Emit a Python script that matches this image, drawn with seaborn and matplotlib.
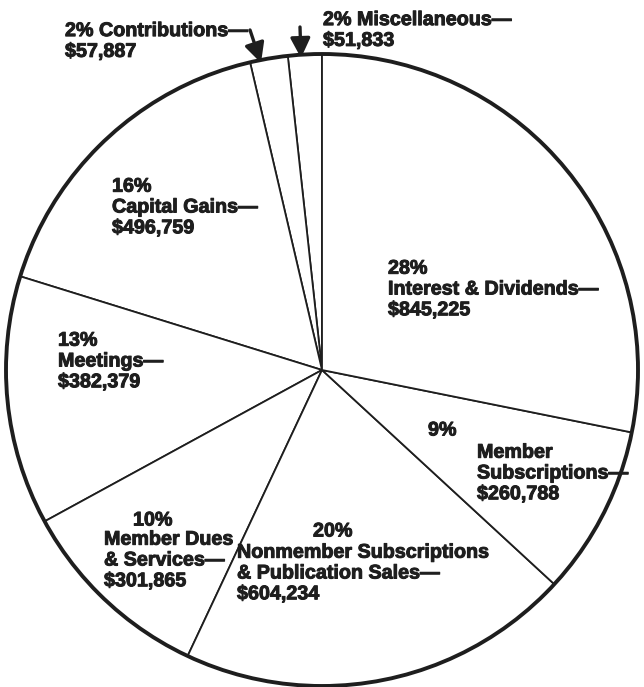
import matplotlib
matplotlib.use("Agg")
import matplotlib.pyplot as plt
import matplotlib.patheffects as pe
import seaborn as sns

# slices, counterclockwise from 12 o'clock
categories = [
    "Miscellaneous",
    "Contributions",
    "Capital Gains",
    "Meetings",
    "Member Dues\n& Services",
    "Nonmember Subscriptions\n& Publication Sales",
    "Member\nSubscriptions",
    "Interest & Dividends",
]
amounts = [51833, 57887, 496759, 382379, 301865, 604234, 260788, 845225]
percents = [2, 2, 16, 13, 10, 20, 9, 28]

W, H = 644, 687
ink = "#1e1e1e"

sns.set_theme(style="white")
plt.rcParams["font.family"] = ["Liberation Sans", "DejaVu Sans"]

fig = plt.figure(figsize=(W / 100, H / 100), dpi=100)
ax = fig.add_axes([0, 0, 1, 1])

cx, cy, r = 322, 370, 316

wedges, _ = ax.pie(
    amounts,
    startangle=90,
    counterclock=True,
    center=(cx, H - cy),
    radius=r,
    colors=["white"] * len(amounts),
    wedgeprops=dict(edgecolor=ink, linewidth=1.3),
)

# heavier outer rim
rim = plt.Circle((cx, H - cy), r, fill=False, edgecolor=ink, linewidth=2.8)
ax.add_patch(rim)

ax.set_xlim(0, W)
ax.set_ylim(0, H)
ax.axis("off")

font = dict(fontsize=14.2, fontweight="bold", color=ink, linespacing=1.12,
            ha="left", va="center",
            path_effects=[pe.withStroke(linewidth=0.7, foreground=ink)])


def put(x, y, s):
    ax.text(x, H - y, s, **font)


def amt(i):
    return "${:,}".format(amounts[i])


# small slices: percent on the same line, with arrows
put(323, 30, f"{percents[0]}% {categories[0]}—\n{amt(0)}")
put(65, 41, f"{percents[1]}% {categories[1]}—\n{amt(1)}")

arrow = dict(arrowstyle="-|>,head_length=1.0,head_width=0.5",
             color=ink, lw=2.4, shrinkA=0, shrinkB=0)
ax.annotate("", xy=(261, H - 63), xytext=(250, H - 30), arrowprops=arrow)
ax.annotate("", xy=(301, H - 58), xytext=(300, H - 27), arrowprops=arrow)

# larger slices
put(112, 207, f"{percents[2]}%\n{categories[2]}—\n{amt(2)}")
put(58, 361, f"{percents[3]}%\n{categories[3]}—\n{amt(3)}")
put(388, 289, f"{percents[7]}%\n{categories[7]}—\n{amt(7)}")

put(133, 520, f"{percents[4]}%")
put(104, 560, f"{categories[4]}—\n{amt(4)}")

put(313, 531, f"{percents[5]}%")
put(237, 573, f"{categories[5]}—\n{amt(5)}")

put(428, 430, f"{percents[6]}%")
put(477, 473, f"{categories[6]}—\n{amt(6)}")

fig.savefig("out.png", dpi=100, facecolor="white")
